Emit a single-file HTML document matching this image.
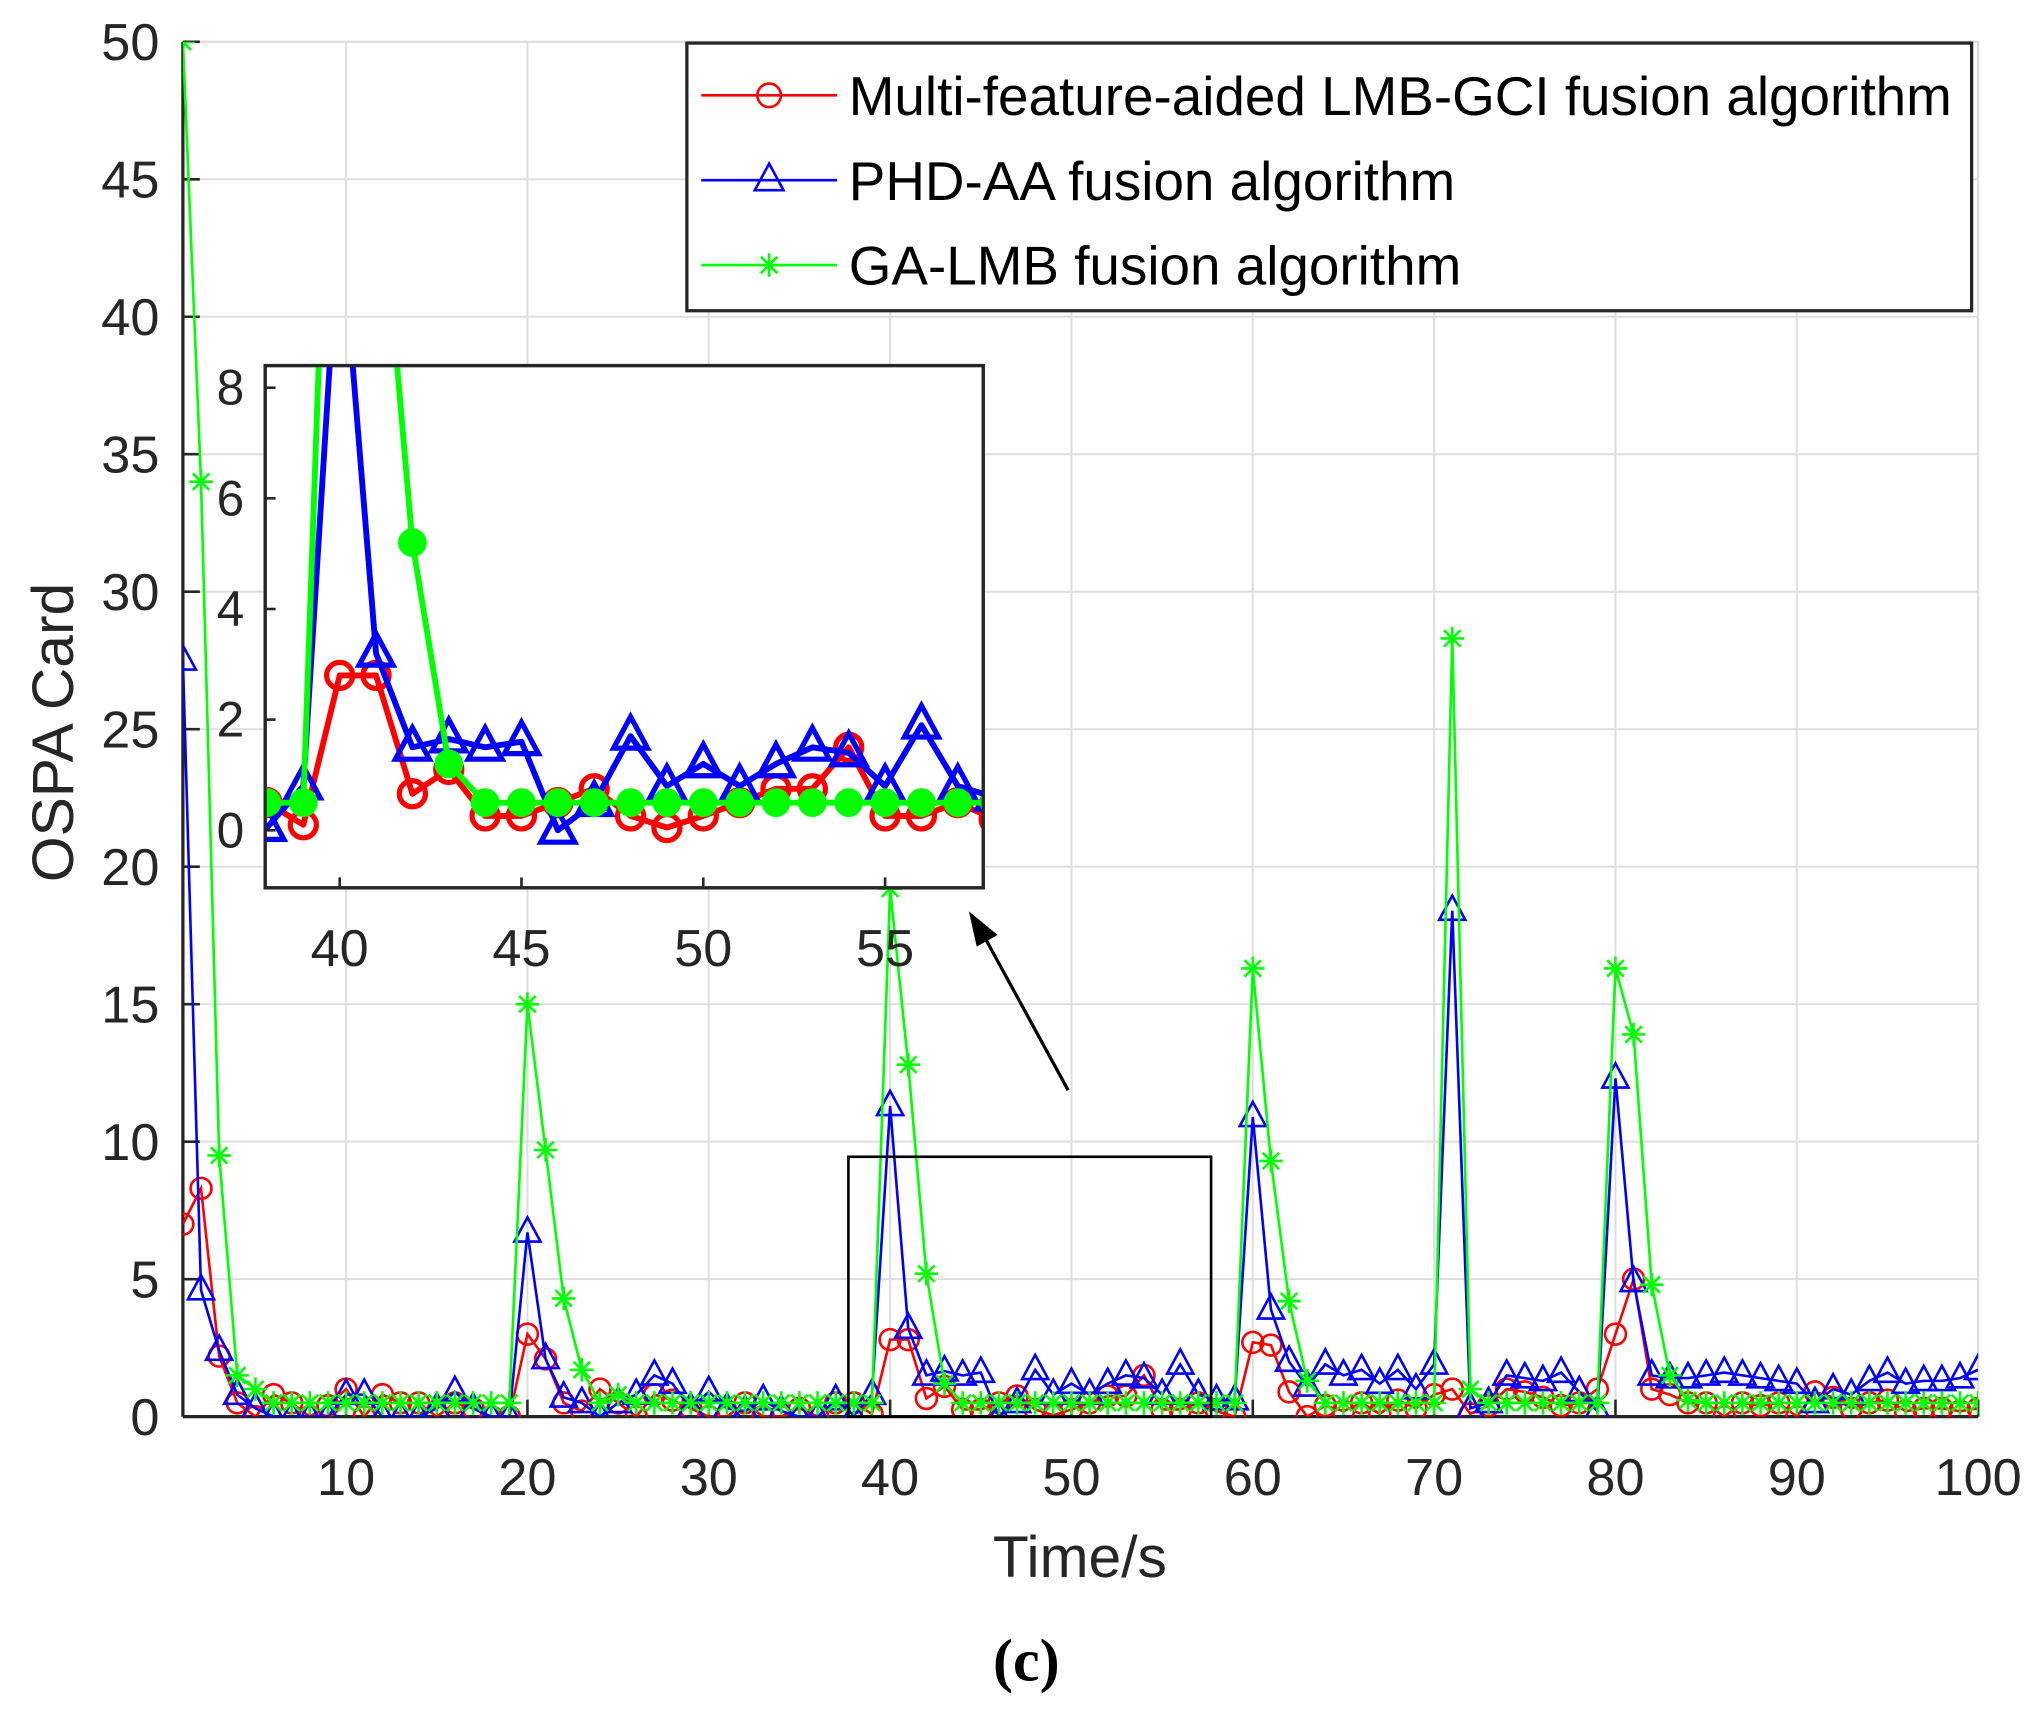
<!DOCTYPE html>
<html><head><meta charset="utf-8"><style>
html,body{margin:0;padding:0;background:#fff;}
svg{display:block;}
text{font-family:"Liberation Sans",Arial,sans-serif;}
</style></head><body>
<svg id="chart" width="2037" height="1713" viewBox="0 0 1560 1312" xmlns="http://www.w3.org/2000/svg">
<defs>
<clipPath id="mainClip"><rect x="140" y="32" width="1375" height="1053"/></clipPath>
<clipPath id="insetClip"><rect x="203" y="280" width="550" height="400"/></clipPath>
</defs>
<rect x="0" y="0" width="1560" height="1312" fill="#fff"/>
<g id="main"></g>
<g id="inset"></g>
<g id="legend"></g>
</svg>
<script>
const xs = Array.from({length:100},(_,i)=>i+1);
const redVals = [7,8.3,2.2,0.5,0,0.8,0.5,0,0.4,1.0, 0,0.8,0.5,0.5,0,0.5,0.3,0,0,3.0, 2.1,0.5,0.2,1.0,0.5,0,0.8,0.6,0.3,0, 0,0.5,0,0,0.3,0,0.5,0.5,0.1,2.8, 2.8,0.66,1.1,0.26,0.26,0.5,0.75,0.26,0.05,0.26, 0.5,0.75,0.75,1.5,0.26,0.26,0.5,0.2,0,2.7, 2.6,0.9,0,0.4,0.2,0.5,0.1,0.6,0.3,0.8, 1.0,0.1,0.4,1.0,0.9,0.7,0.4,0.5,1.0,3.0, 5.0,1.0,0.8,0.5,0.5,0,0.5,0.4,0.5,0, 0.9,0.7,0.3,0.5,0.6,0.2,0.3,0.3,0.2,0.3];
const blueVals = [27.5,4.6,2.4,0.8,0.3,0,0,0,0,0.8, 0.8,0,0,0,0.3,0.9,0.3,0,0,6.7, 2.1,0.7,0.5,0,0.5,0.8,1.5,1.2,0.3,0.9, 0.3,0.2,0.6,0.2,0,0,0.6,0.05,0.8,11.3, 3.2,1.5,1.65,1.5,1.6,0,0.5,1.7,0.8,1.2, 0.8,1.2,1.5,1.4,0.8,1.9,0.8,0.6,0.6,10.9, 3.9,2.0,1.1,1.9,1.5,1.7,1.2,1.7,1.0,1.9, 18.4,0.3,0.5,1.5,1.4,1.3,1.6,0.9,0.2,12.3, 4.9,1.5,1.4,1.4,1.5,1.6,1.5,1.4,1.3,1.2, 0.5,1.0,0.8,1.3,1.6,1.2,1.3,1.3,1.4,1.7];
const greenVals = [50,34,9.5,1.5,1.0,0.5,0.5,0.5,0.5,0.5, 0.5,0.5,0.5,0.5,0.5,0.5,0.5,0.5,0.5,15, 9.7,4.3,1.7,0.5,0.8,0.5,0.5,0.5,0.5,0.5, 0.5,0.5,0.5,0.5,0.5,0.5,0.5,0.5,0.5,19.2, 12.8,5.2,1.2,0.5,0.5,0.5,0.5,0.5,0.5,0.5, 0.5,0.5,0.5,0.5,0.5,0.5,0.5,0.5,0.5,16.3, 9.3,4.2,1.3,0.5,0.5,0.5,0.5,0.5,0.5,0.5, 28.3,1.0,0.5,0.5,0.5,0.5,0.5,0.5,0.5,16.3, 13.9,4.8,1.5,0.6,0.5,0.5,0.5,0.5,0.5,0.5, 0.5,0.5,0.5,0.5,0.5,0.5,0.5,0.5,0.5,0.5];
const xTicks = [10,20,30,40,50,60,70,80,90,100];
const yTicks = [0,5,10,15,20,25,30,35,40,45,50];
const insetXTicks = [40,45,50,55];
const insetYTicks = [0,2,4,6,8];
const seriesNames = ["Multi-feature-aided LMB-GCI fusion algorithm","PHD-AA fusion algorithm","GA-LMB fusion algorithm"];

const NS="http://www.w3.org/2000/svg";
function mk(tag,attrs,parent){const e=document.createElementNS(NS,tag);for(const k in attrs)e.setAttribute(k,attrs[k]);parent.appendChild(e);return e;}

const M={l:140,r:1515,t:32,b:1085,x0:1,x1:100,y0:0,y1:50};
const mx=v=>M.l+(v-M.x0)/(M.x1-M.x0)*(M.r-M.l);
const my=v=>M.b-(v-M.y0)/(M.y1-M.y0)*(M.b-M.t);
const I={l:203,r:753,t:280,b:680,x0:37.95,x1:57.7,y0:-1.04,y1:8.4};
const ix=v=>I.l+(v-I.x0)/(I.x1-I.x0)*(I.r-I.l);
const iy=v=>I.b-(v-I.y0)/(I.y1-I.y0)*(I.b-I.t);

const main=document.getElementById('main');
xTicks.forEach(t=>{const l=mk('line',{x1:mx(t),x2:mx(t),y1:M.t,y2:M.b,stroke:'#dedede','stroke-width':1.5},main);

});
yTicks.forEach(t=>{const l=mk('line',{x1:M.l,x2:M.r,y1:my(t),y2:my(t),stroke:'#dedede','stroke-width':1.5},main);

});
const box=mk('rect',{x:M.l,y:M.t,width:M.r-M.l,height:M.b-M.t,fill:'none',stroke:'#dedede','stroke-width':1.5},main);


const xa=mk('line',{x1:M.l,x2:M.r,y1:M.b,y2:M.b,stroke:'#262626','stroke-width':2.5},main);


const ya=mk('line',{x1:M.l,x2:M.l,y1:M.t,y2:M.b,stroke:'#262626','stroke-width':2.5},main);


xTicks.forEach(t=>{mk('line',{x1:mx(t),x2:mx(t),y1:M.b,y2:M.b-13,stroke:'#262626','stroke-width':2},main);
const tx=mk('text',{x:mx(t),y:M.b+60,'text-anchor':'middle','font-size':40,fill:'#262626'},main);tx.textContent=t;

});
yTicks.forEach(t=>{mk('line',{x1:M.l,x2:M.l+13,y1:my(t),y2:my(t),stroke:'#262626','stroke-width':2},main);
const tx=mk('text',{x:M.l-18,y:my(t)+14,'text-anchor':'end','font-size':40,fill:'#262626'},main);tx.textContent=t;

});
const xl=mk('text',{x:827,y:1208,'text-anchor':'middle','font-size':45,fill:'#262626'},main);xl.textContent='Time/s';


const yl=mk('text',{x:0,y:0,'text-anchor':'middle','font-size':45,fill:'#262626',transform:'translate(56,561) rotate(-90)'},main);yl.textContent='OSPA Card';


const cap=mk('text',{x:786,y:1287,'text-anchor':'middle','font-size':46,'font-weight':'bold',fill:'#000',style:'font-family:"Liberation Serif",serif'},main);cap.textContent='(c)';



function drawMarker(g,type,x,y,color,s,sw){
  if(type==='o'){return mk('circle',{cx:x,cy:y,r:s,fill:'none',stroke:color,'stroke-width':sw},g);}
  if(type==='^'){return mk('polygon',{points:`${x},${y-s*1.15} ${x-s},${y+s*0.7} ${x+s},${y+s*0.7}`,fill:'none',stroke:color,'stroke-width':sw},g);}
  if(type==='*'){return mk('path',{d:`M${x-s},${y}H${x+s}M${x},${y-s}V${y+s}M${x-s*0.7},${y-s*0.7}L${x+s*0.7},${y+s*0.7}M${x-s*0.7},${y+s*0.7}L${x+s*0.7},${y-s*0.7}`,stroke:color,'stroke-width':sw,fill:'none'},g);}
  if(type==='dot'){return mk('circle',{cx:x,cy:y,r:s,fill:color,stroke:color,'stroke-width':sw},g);}
}
const series=[{vals:redVals,color:'#ff0000',m:'o',name:'red-series'},{vals:blueVals,color:'#0000ff',m:'^',name:'blue-series'},{vals:greenVals,color:'#00ff00',m:'*',name:'green-series'}];
const mg=mk('g',{'clip-path':'url(#mainClip)'},main);
series.forEach(s=>{
  const g=mk('g',{},mg);
  
  
  const pts=xs.map((x,i)=>mx(x)+','+my(s.vals[i])).join(' ');
  const pl=mk('polyline',{points:pts,fill:'none',stroke:s.color,'stroke-width':2},g);
  
  
  xs.forEach((x,i)=>{const mkr=drawMarker(g,s.m,mx(x),my(s.vals[i]),s.color,s.m==='o'?8:(s.m==='^'?10:9),2);
    
    });
});
const zr=mk('rect',{x:mx(37.7),y:my(9.45),width:mx(57.7)-mx(37.7),height:M.b-my(9.45),fill:'none',stroke:'#000','stroke-width':2},main);


const ar=mk('line',{x1:818,y1:835,x2:752,y2:714,stroke:'#000','stroke-width':2.5},main);


mk('polygon',{points:'742,698 764,716 748,725',fill:'#000'},main);

const ins=document.getElementById('inset');
const ibg=mk('rect',{x:I.l,y:I.t,width:I.r-I.l,height:I.b-I.t,fill:'#fff',stroke:'#262626','stroke-width':2.5},ins);


insetXTicks.forEach(t=>{mk('line',{x1:ix(t),x2:ix(t),y1:I.b,y2:I.b-8,stroke:'#262626','stroke-width':2},ins);
const tx=mk('text',{x:ix(t),y:I.b+60,'text-anchor':'middle','font-size':40,fill:'#262626'},ins);tx.textContent=t;

});
insetYTicks.forEach(t=>{mk('line',{x1:I.l,x2:I.l+8,y1:iy(t),y2:iy(t),stroke:'#262626','stroke-width':2},ins);
const tx=mk('text',{x:I.l-16,y:iy(t)+13,'text-anchor':'end','font-size':38,fill:'#262626'},ins);tx.textContent=t;

});
const ig=mk('g',{'clip-path':'url(#insetClip)'},ins);
const insetTypes=['o','^','dot'];
series.forEach((s,k)=>{
  const g=mk('g',{},ig);
  
  
  const pts=xs.map((x,i)=>ix(x)+','+iy(s.vals[i])).join(' ');
  mk('polyline',{points:pts,fill:'none',stroke:s.color,'stroke-width':4.5,'stroke-linejoin':'round'},g);
  xs.forEach((x,i)=>{if(x<37||x>59)return;const mkr=drawMarker(g,insetTypes[k],ix(x),iy(s.vals[i]),s.color,k===0?10:(k===1?13:9),4);
    
    });
});
mk('rect',{x:I.l,y:I.t,width:I.r-I.l,height:I.b-I.t,fill:'none',stroke:'#262626','stroke-width':2.5},ins);

const lg=document.getElementById('legend');


mk('rect',{x:526,y:33,width:984,height:205,fill:'#fff',stroke:'#262626','stroke-width':2.5},lg);
const ly=[73,138,203];
series.forEach((s,k)=>{
  const e=mk('g',{},lg);
  
  
  mk('line',{x1:537,x2:641,y1:ly[k],y2:ly[k],stroke:s.color,'stroke-width':2},e);
  drawMarker(e,s.m,589,ly[k],s.color,s.m==='o'?9:(s.m==='^'?11:9),2);
  const t=mk('text',{x:650,y:ly[k]+15,'font-size':42,fill:'#000'},e);t.textContent=seriesNames[k];
});
</script>
</body></html>
